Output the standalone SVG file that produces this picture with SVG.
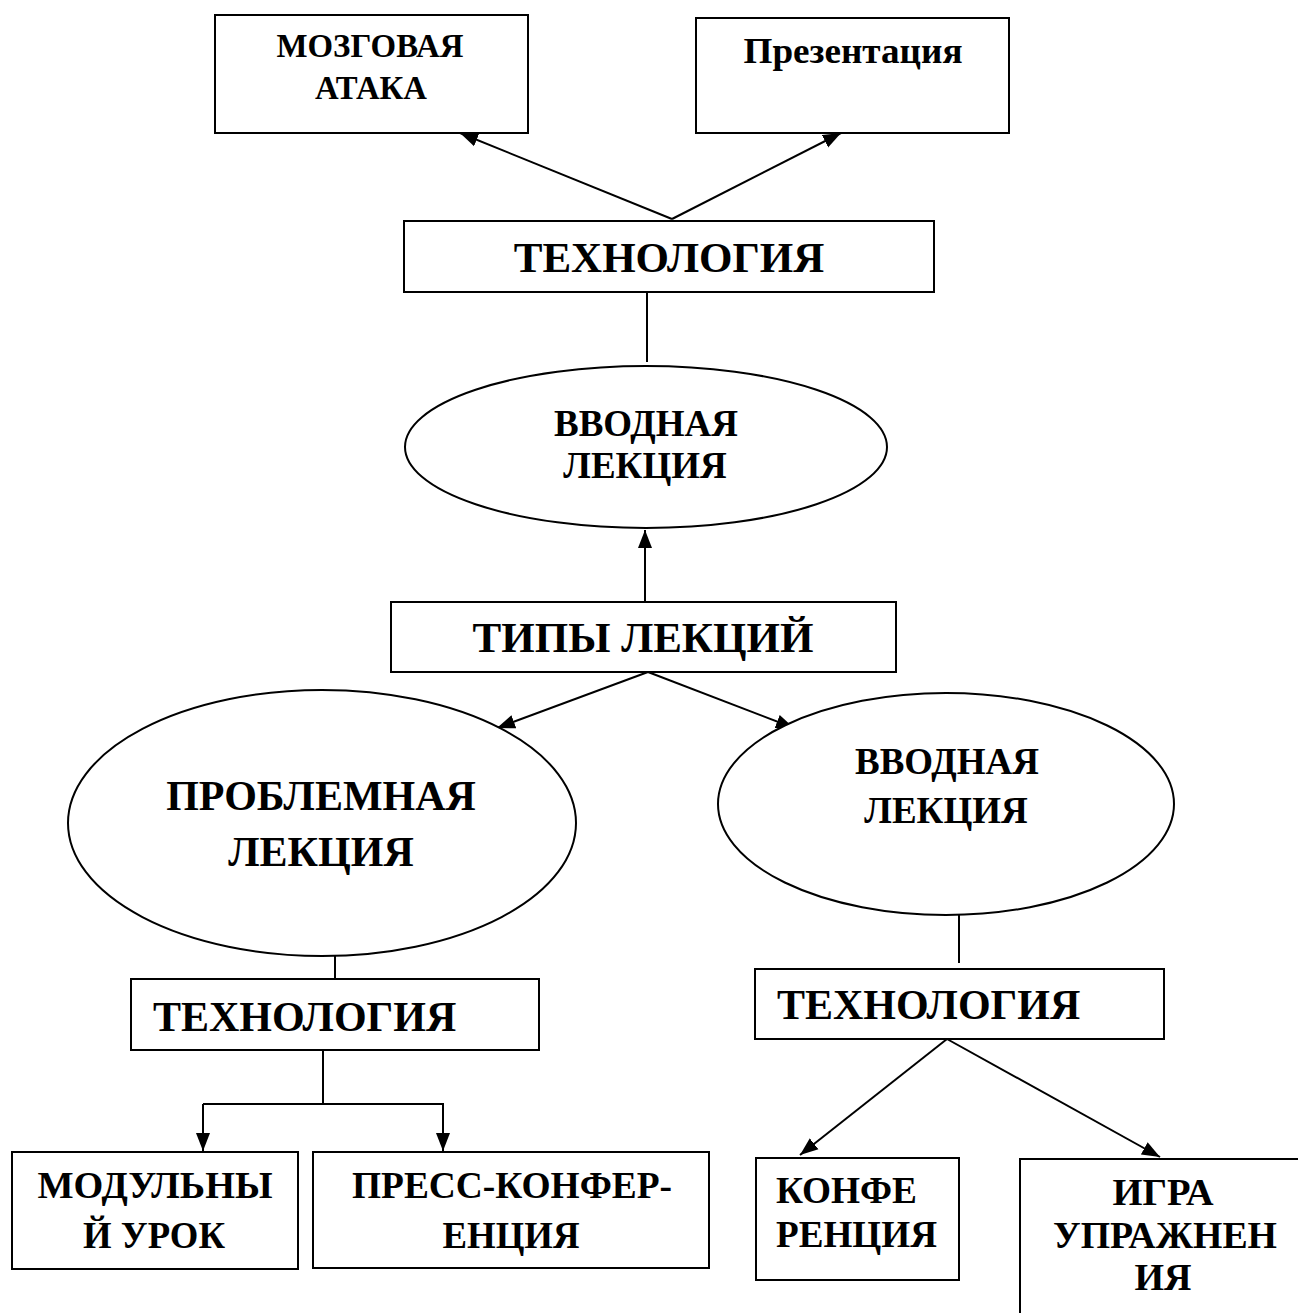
<svg xmlns="http://www.w3.org/2000/svg" width="1298" height="1313" viewBox="0 0 1298 1313">
<style>
.box{fill:#fff;stroke:#000;stroke-width:2}
.ell{fill:#fff;stroke:#000;stroke-width:2}
.t{font-family:"Liberation Serif","Times New Roman",serif;font-weight:bold;fill:#000;text-anchor:middle}
.ts{font-family:"Liberation Serif","Times New Roman",serif;font-weight:bold;fill:#000}
.c{stroke:#000;stroke-width:2;fill:none}
</style>
<defs>
<marker id="ah" markerUnits="userSpaceOnUse" markerWidth="20" markerHeight="16" refX="18" refY="8" orient="auto">
<path d="M0,1 L18,8 L0,15 Z" fill="#000"/>
</marker>
</defs>
<rect width="1298" height="1313" fill="#fff"/>
<g id="connectors">
<line class="c" x1="672" y1="219" x2="460" y2="133" marker-end="url(#ah)"/>
<line class="c" x1="672" y1="219" x2="841" y2="133" marker-end="url(#ah)"/>
<line class="c" x1="647" y1="292" x2="647" y2="362"/>
<line class="c" x1="645" y1="602" x2="645" y2="530" marker-end="url(#ah)"/>
<line class="c" x1="648" y1="672" x2="497" y2="728" marker-end="url(#ah)"/>
<line class="c" x1="648" y1="672" x2="794" y2="728" marker-end="url(#ah)"/>
<line class="c" x1="335" y1="956" x2="335" y2="979"/>
<line class="c" x1="323" y1="1050" x2="323" y2="1104"/>
<polyline class="c" points="203,1104 443,1104 443,1151" marker-end="url(#ah)"/>
<line class="c" x1="203" y1="1104" x2="203" y2="1151" marker-end="url(#ah)"/>
<line class="c" x1="959" y1="915" x2="959" y2="963"/>
<line class="c" x1="947" y1="1039" x2="800" y2="1155" marker-end="url(#ah)"/>
<line class="c" x1="947" y1="1039" x2="1160" y2="1157" marker-end="url(#ah)"/>
</g>
<g id="n-brainstorm">
<rect class="box" x="215" y="15" width="313" height="118"/>
<text class="t" x="370" y="57" font-size="33" textLength="187" lengthAdjust="spacingAndGlyphs">МОЗГОВАЯ</text>
<text class="t" x="371" y="99" font-size="33" textLength="112" lengthAdjust="spacingAndGlyphs">АТАКА</text>
</g>
<g id="n-presentation">
<rect class="box" x="696" y="18" width="313" height="115"/>
<text class="t" x="853" y="63" font-size="35" textLength="219" lengthAdjust="spacingAndGlyphs">Презентация</text>
</g>
<g id="n-tech-top">
<rect class="box" x="404" y="221" width="530" height="71"/>
<text class="t" x="669" y="272" font-size="43">ТЕХНОЛОГИЯ</text>
</g>
<g id="n-intro-top">
<ellipse class="ell" cx="646" cy="447" rx="241" ry="81"/>
<text class="t" x="646" y="436" font-size="37">ВВОДНАЯ</text>
<text class="t" x="645" y="478" font-size="37">ЛЕКЦИЯ</text>
</g>
<g id="n-types">
<rect class="box" x="391" y="602" width="505" height="70"/>
<text class="t" x="643" y="652" font-size="43">ТИПЫ ЛЕКЦИЙ</text>
</g>
<g id="n-problem">
<ellipse class="ell" cx="322" cy="823" rx="254" ry="133"/>
<text class="t" x="321" y="810" font-size="42">ПРОБЛЕМНАЯ</text>
<text class="t" x="321" y="866" font-size="42">ЛЕКЦИЯ</text>
</g>
<g id="n-intro-right">
<ellipse class="ell" cx="946" cy="804" rx="228" ry="111"/>
<text class="t" x="947" y="774" font-size="37">ВВОДНАЯ</text>
<text class="t" x="946" y="823" font-size="37">ЛЕКЦИЯ</text>
</g>
<g id="n-tech-left">
<rect class="box" x="131" y="979" width="408" height="71"/>
<text class="ts" x="153" y="1031" font-size="42">ТЕХНОЛОГИЯ</text>
</g>
<g id="n-tech-right">
<rect class="box" x="755" y="969" width="409" height="70"/>
<text class="ts" x="777" y="1019" font-size="42">ТЕХНОЛОГИЯ</text>
</g>
<g id="n-module">
<rect class="box" x="12" y="1152" width="286" height="117"/>
<text class="t" x="155" y="1198" font-size="38" textLength="235" lengthAdjust="spacingAndGlyphs">МОДУЛЬНЫ</text>
<text class="t" x="154" y="1248" font-size="38" textLength="142" lengthAdjust="spacingAndGlyphs">Й УРОК</text>
</g>
<g id="n-press">
<rect class="box" x="313" y="1152" width="396" height="116"/>
<text class="t" x="512" y="1198" font-size="38" textLength="320" lengthAdjust="spacingAndGlyphs">ПРЕСС-КОНФЕР-</text>
<text class="t" x="511" y="1248" font-size="38" textLength="137" lengthAdjust="spacingAndGlyphs">ЕНЦИЯ</text>
</g>
<g id="n-conf">
<rect class="box" x="756" y="1158" width="203" height="122"/>
<text class="ts" x="776" y="1203" font-size="38" textLength="141" lengthAdjust="spacingAndGlyphs">КОНФЕ</text>
<text class="ts" x="776" y="1247" font-size="38" textLength="161" lengthAdjust="spacingAndGlyphs">РЕНЦИЯ</text>
</g>
<g id="n-game">
<rect class="box" x="1020" y="1159" width="300" height="200"/>
<text class="t" x="1163" y="1205" font-size="38" textLength="101" lengthAdjust="spacingAndGlyphs">ИГРА</text>
<text class="t" x="1165" y="1248" font-size="38" textLength="224" lengthAdjust="spacingAndGlyphs">УПРАЖНЕН</text>
<text class="t" x="1163" y="1290" font-size="38">ИЯ</text>
</g>
</svg>
